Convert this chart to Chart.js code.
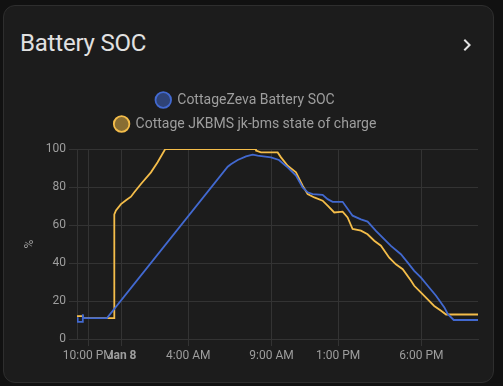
<!DOCTYPE html>
<html>
<head>
<meta charset="utf-8">
<script src="https://cdn.jsdelivr.net/npm/chart.js"></script>
<style>
  html, body { margin: 0; padding: 0; background: #111111; }
  body { width: 503px; height: 386px; position: relative; overflow: hidden; font-family: Roboto, sans-serif; }
  .card {
    position: absolute; left: 3px; top: 5px; width: 489px; height: 376px;
    background: #1c1c1c; border: 1px solid #2e2e2e; border-radius: 12px;
  }
  .title { position: absolute; left: 16px; top: 23px; font-size: 24px; color: #e1e1e1; letter-spacing: -0.2px; }
  .chev { position: absolute; left: 451px; top: 27px; width: 24px; height: 24px; }
  .wrap { position: absolute; left: 9px; top: 77px; width: 478px; height: 290px; }
</style>
</head>
<body>
<div class="card">
  <div class="title">Battery SOC</div>
  <svg class="chev" viewBox="0 0 24 24"><path fill="#e1e1e1" d="M8.59,16.58L13.17,12L8.59,7.41L10,6L16,12L10,18L8.59,16.58Z"/></svg>
  <div class="wrap"><canvas id="myChart"></canvas></div>
</div>
<script>
  // hours relative to midnight Jan 8
  const zevaHours = [-2.68, -2.64, -2.34, -2.33, -2.3, -0.88, 6.37, 6.56, 6.97, 7.47, 7.87, 8.17, 8.97, 9.45, 9.75, 9.97, 10.47, 10.87, 11.17, 11.47, 12.07, 12.37, 12.67, 13.27, 13.87, 14.37, 14.77, 15.27, 16.17, 16.77, 17.18, 17.57, 17.98, 18.38, 18.88, 19.38, 19.58, 19.94, 21.4];
  const zevaSoc = [11.5, 9, 9, 13, 11, 11, 90.7, 92, 94.2, 96.1, 97, 96.5, 95.6, 94.2, 92, 90.3, 86, 79.8, 77.2, 76.3, 75.9, 73.6, 72.2, 72.2, 64.9, 63, 61.8, 56.9, 49, 44.6, 40.2, 35.9, 32.3, 28, 22.8, 16.6, 13.2, 10, 10];

  const jkHours = [-2.68, -2.33, -2.3, -0.44, -0.44, -0.34, -0.04, 0.26, 0.56, 0.76, 1.16, 1.76, 2.16, 2.62, 8.07, 8.07, 8.37, 9.37, 9.57, 9.97, 10.47, 10.87, 11.17, 11.57, 12.07, 12.37, 12.77, 13.27, 13.57, 13.87, 14.37, 14.77, 15.17, 15.57, 16.07, 16.47, 16.88, 17.38, 17.57, 17.98, 18.38, 18.77, 19.18, 19.48, 21.4];
  const jkSoc = [12, 12, 11, 11, 65.6, 67.7, 71, 73, 74.9, 77.2, 81.6, 87.7, 93, 100, 100, 99.1, 98.2, 98.2, 95.6, 91.2, 87.7, 80.7, 76.3, 74.5, 72.8, 70.2, 66.6, 67, 64, 57.9, 57, 55.1, 51.7, 49.1, 42.8, 39.3, 36.7, 30.7, 28, 24.4, 20.9, 17.4, 14.9, 12.9, 12.9];

  const tickHours = [-2, 0, 4, 9, 13, 18];
  const tickLabels = ['10:00 PM', 'Jan 8', '4:00 AM', '9:00 AM', '1:00 PM', '6:00 PM'];
  const yTicks = [0, 20, 40, 60, 80, 100];

  const textColor = '#9e9e9e';
  const gridColor = '#333333';

  const toPoints = (xs, ys) => xs.map((x, i) => ({ x: x, y: ys[i] }));

  // force the legend onto two rows like the original card, plus a gap below it
  const wrapLegend = {
    id: 'wrapLegend',
    afterInit(chart) {
      const legend = chart.legend;
      const orig = legend.update.bind(legend);
      legend.update = (w, h, m) => {
        orig(Math.min(w, 300), h, m);
        legend.height += 8;
      };
    }
  };

  const ctx = document.getElementById('myChart').getContext('2d');
  new Chart(ctx, {
    type: 'line',
    data: {
      datasets: [{
        label: 'CottageZeva Battery SOC',
        data: toPoints(zevaHours, zevaSoc),
        borderColor: '#4269d0',
        backgroundColor: 'rgba(66,105,208,0.5)',
        borderWidth: 1.8,
        pointRadius: 0,
        tension: 0
      }, {
        label: 'Cottage JKBMS jk-bms state of charge',
        data: toPoints(jkHours, jkSoc),
        borderColor: '#f4bd4a',
        backgroundColor: 'rgba(244,189,74,0.5)',
        borderWidth: 1.8,
        pointRadius: 0,
        tension: 0
      }]
    },
    plugins: [wrapLegend],
    options: {
      responsive: true,
      maintainAspectRatio: false,
      animation: false,
      layout: { padding: { right: 13, top: 0 } },
      plugins: {
        tooltip: { enabled: false },
        legend: {
          labels: {
            usePointStyle: true,
            pointStyle: 'circle',
            boxWidth: 14,
            boxHeight: 11,
            padding: 10,
            color: textColor,
            font: { family: 'Roboto', size: 14 }
          }
        }
      },
      scales: {
        x: {
          type: 'linear',
          min: -2.68,
          max: 21.4,
          afterBuildTicks: (s) => { s.ticks = tickHours.map(v => ({ value: v })); },
          afterFit: (s) => { s.height = 34; },
          grid: { color: gridColor, tickLength: 7 },
          border: { color: gridColor },
          ticks: {
            autoSkip: false,
            maxRotation: 0,
            padding: 3,
            color: textColor,
            font: (c) => ({ family: 'Roboto', size: 12, weight: c.tick && c.tick.value === 0 ? 'bold' : 'normal' }),
            callback: (v) => tickLabels[tickHours.indexOf(v)]
          }
        },
        y: {
          min: 0,
          max: 100,
          afterBuildTicks: (s) => { s.ticks = yTicks.map(v => ({ value: v })); },
          afterFit: (s) => { s.width = 64; },
          grid: { color: gridColor, tickLength: 8 },
          border: { color: gridColor },
          title: {
            display: true,
            text: '%',
            color: textColor,
            font: { family: 'Roboto', size: 12 },
            padding: { top: 10, bottom: 0 }
          },
          ticks: {
            padding: 3,
            color: textColor,
            font: { family: 'Roboto', size: 12 }
          }
        }
      }
    }
  });
</script>
</body>
</html>
